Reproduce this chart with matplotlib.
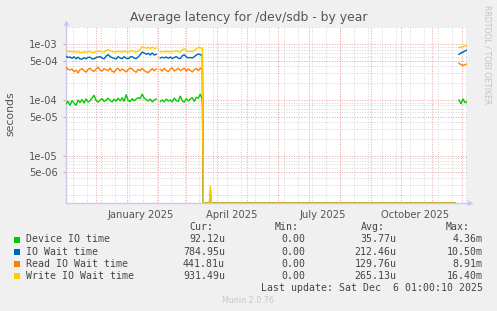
import numpy as np
import matplotlib
matplotlib.use("Agg")
import matplotlib.pyplot as plt
import matplotlib.dates as mdates
from matplotlib.patches import Rectangle, Polygon
from matplotlib.lines import Line2D

# ---------------- data (values in microseconds, days since 2024-11-01 01:00) ----
series_names = ["Device IO time", "IO Wait time", "Read IO Wait time", "Write IO Wait time"]
series_colors = ["#00CC00", "#0066B3", "#FF8000", "#FFCC00"]

days_a = list(range(0, 91, 2))
days_b = list(range(94, 137, 2))
days_z = [137, 143, 144, 145, 388]
days_c = [392, 394, 396, 398, 400]

device_a = [85, 95, 80, 98, 88, 80, 100, 90, 102, 88, 105, 92, 97, 108, 122, 98, 92, 100, 106, 94,
            99, 108, 98, 92, 104, 95, 108, 96, 110, 94, 125, 98, 94, 106, 96, 104, 110, 106, 128, 108,
            102, 96, 104, 92, 100, 104]
iowait_a = [610, 580, 590, 560, 595, 550, 585, 545, 540, 575, 550, 580, 585, 550, 545, 580, 590, 600, 565, 550,
            610, 650, 600, 575, 560, 545, 600, 570, 550, 600, 560, 550, 590, 600, 565, 555, 590, 650, 720, 700,
            660, 690, 640, 700, 640, 660]
read_a = [390, 355, 345, 360, 320, 345, 305, 350, 365, 335, 315, 355, 370, 340, 325, 360, 385, 345, 330, 365,
          350, 335, 375, 330, 315, 355, 370, 330, 360, 340, 320, 350, 375, 360, 330, 315, 355, 335, 370, 340,
          320, 310, 340, 365, 335, 360]
write_a = [760, 740, 750, 725, 755, 715, 745, 710, 705, 735, 715, 740, 745, 715, 710, 740, 750, 760, 730, 720,
           770, 800, 760, 745, 730, 720, 760, 735, 725, 765, 730, 720, 755, 765, 735, 725, 755, 810, 900, 880,
           850, 880, 840, 890, 845, 860]

device_b = [94, 100, 92, 104, 96, 100, 92, 108, 98, 94, 118, 96, 92, 106, 96, 104, 110, 94, 112, 108, 128, 100]
iowait_b = [565, 585, 570, 590, 560, 590, 555, 580, 600, 565, 555, 620, 645, 595, 570, 580, 565, 600, 640, 670, 650, 630]
read_b = [355, 330, 370, 340, 320, 360, 375, 330, 350, 370, 335, 355, 375, 330, 360, 340, 320, 350, 370, 335, 375, 345]
write_b = [725, 745, 730, 755, 725, 745, 730, 750, 765, 735, 725, 800, 825, 765, 740, 750, 735, 770, 830, 880, 860, 840]

device_z = [0, 0, 2.5, 0, 0]
iowait_z = [0, 0, 0, 0, 0]
read_z = [0, 0, 0, 0, 0]
write_z = [0, 0, 2.9, 0, 0]

device_c = [100, 85, 105, 90, 92.12]
iowait_c = [660, 700, 720, 760, 784.95]
read_c = [460, 430, 420, 430, 441.81]
write_c = [870, 880, 900, 950, 931.49]

cur_vals = ["92.12u", "784.95u", "441.81u", "931.49u"]
min_vals = ["0.00", "0.00", "0.00", "0.00"]
avg_vals = ["35.77u", "212.46u", "129.76u", "265.13u"]
max_vals = ["4.36m", "10.50m", "8.91m", "16.40m"]

ytick_vals = [1e-3, 5e-4, 1e-4, 5e-5, 1e-5, 5e-6]
ytick_labels = ["1e-03", "5e-04", "1e-04", "5e-05", "1e-05", "5e-06"]
xlabel_dates = ["2025-01-15", "2025-04-15", "2025-07-15", "2025-10-15"]
xlabel_texts = ["January 2025", "April 2025", "July 2025", "October 2025"]

# ---------------- figure ----------------
W, H = 497, 311
fig = plt.figure(figsize=(W / 100, H / 100), dpi=100, facecolor="#F0F0F0")
L, R, T, B = 66, 467, 27, 203.3
ax = fig.add_axes([L / W, 1 - B / H, (R - L) / W, (B - T) / H])
ax.set_facecolor("white")

YMIN, YMAX = 1.4e-6, 2.04e-3
start = np.datetime64("2024-11-01T01:00")


def to_num(days):
    arr = start + (np.array(days, dtype=float) * 24 * 3600).astype("timedelta64[s]")
    return mdates.date2num(arr)


all_days = days_a + [92] + days_b + days_z + [390] + days_c
xs = to_num(all_days)
nan = [float("nan")]
groups = [
    (device_a, device_b, device_z, device_c),
    (iowait_a, iowait_b, iowait_z, iowait_c),
    (read_a, read_b, read_z, read_c),
    (write_a, write_b, write_z, write_c),
]

ax.set_yscale("log")
ax.set_ylim(YMIN, YMAX)
x0, x1 = to_num([0, 400])
ax.set_xlim(x0, x1)

# grid
minor_col = "#D4D4D4"
major_col = "#EBA0A0"
dash = (0, (1.0, 1.6))
for k in range(-7, -1):
    for m in range(1, 10):
        v = m * 10.0 ** k
        if YMIN < v < YMAX and m not in (1, 5):
            ax.axhline(v, color=minor_col, lw=0.7, ls=dash, zorder=1)
d = np.datetime64("2024-11-08")
while d < np.datetime64("2025-12-06"):
    ax.axvline(mdates.date2num(d), color=minor_col, lw=0.7, ls=dash, zorder=1)
    d = d + np.timedelta64(14, "D")
for k in range(-7, -1):
    for m in (1, 5):
        v = m * 10.0 ** k
        if YMIN < v < YMAX:
            ax.axhline(v, color=major_col, lw=0.7, ls=dash, zorder=1.5)
for mo in range(12, 25):
    yy = 2024 + (mo - 1) // 12
    mm = (mo - 1) % 12 + 1
    dd = np.datetime64(f"{yy}-{mm:02d}-01")
    ax.axvline(mdates.date2num(dd), color=major_col, lw=0.7, ls=dash, zorder=1.5)

# series
for (a, b, z, c), col in zip(groups, series_colors):
    vals = np.array(a + nan + b + z + nan + c, dtype=float) * 1e-6
    vals = np.where(vals == 0, YMIN, vals)
    ax.plot(xs, vals, color=col, lw=1.0, zorder=3, solid_joinstyle="miter")

# axes
for s in ("top", "right"):
    ax.spines[s].set_visible(False)
axcol = "#C8C8F0"
for s in ("left", "bottom"):
    ax.spines[s].set_color(axcol)
    ax.spines[s].set_linewidth(1.0)
ax.set_yticks(ytick_vals)
ax.set_yticklabels(ytick_labels)
ax.yaxis.set_minor_locator(matplotlib.ticker.NullLocator())
ax.set_xticks(mdates.date2num(np.array(xlabel_dates, dtype="datetime64[D]")))
ax.set_xticklabels(xlabel_texts)
ax.xaxis.set_minor_locator(matplotlib.ticker.NullLocator())
ax.tick_params(axis="y", length=2, color=major_col, pad=4.0, labelsize=7.2, labelcolor="#555555")
ax.tick_params(axis="x", length=0, pad=4.5, labelsize=7.2, labelcolor="#555555")


def fx(x):
    return x / W


def fy(y):
    return 1 - y / H


# axis extensions & arrows
fig.add_artist(Line2D([fx(L), fx(L)], [fy(T), fy(24)], color=axcol, lw=1.0))
fig.add_artist(Line2D([fx(R), fx(470)], [fy(B), fy(B)], color=axcol, lw=1.0))
fig.add_artist(Polygon([[fx(63.5), fy(25.5)], [fx(69.5), fy(25.5)], [fx(66.5), fy(20.5)]],
                       closed=True, color="#C8C8F8", lw=0))
fig.add_artist(Polygon([[fx(468), fy(B - 3)], [fx(468), fy(B + 3)], [fx(473.5), fy(B)]],
                       closed=True, color="#C8C8F8", lw=0))

# titles
fig.text(fx(248.5), fy(18), "Average latency for /dev/sdb - by year", ha="center", va="center",
         fontsize=8.9, color="#555555")
fig.text(fx(10.5), fy(114), "seconds", rotation=90, ha="center", va="center", fontsize=7.8, color="#555555")
fig.text(fx(487.5), fy(5), "RRDTOOL / TOBI OETIKER", rotation=270, ha="center", va="top",
         fontsize=5.6, color="#C4C4C4")

# legend
mono = "DejaVu Sans Mono"
lfs = 7.1
lcol = "#444444"
hy = 227.5
for txt, xr in (("Cur:", 213), ("Min:", 299), ("Avg:", 384.5), ("Max:", 470)):
    fig.text(fx(xr), fy(hy), txt, ha="right", va="center", fontfamily=mono, fontsize=lfs, color=lcol)
row_y = [239.5, 251.7, 263.7, 275.7]
for i, name in enumerate(series_names):
    y = row_y[i]
    fig.add_artist(Rectangle((fx(14), fy(y + 3)), 6 / W, 6 / H, color=series_colors[i], lw=0))
    fig.text(fx(26), fy(y), name, ha="left", va="center", fontfamily=mono, fontsize=lfs, color=lcol)
    for val, xr in ((cur_vals[i], 225), (min_vals[i], 305), (avg_vals[i], 396.7), (max_vals[i], 482.7)):
        fig.text(fx(xr), fy(y), val, ha="right", va="center", fontfamily=mono, fontsize=lfs, color=lcol)
fig.text(fx(482.7), fy(287.7), "Last update: Sat Dec  6 01:00:10 2025", ha="right", va="center",
         fontfamily=mono, fontsize=lfs, color=lcol)
fig.text(fx(248), fy(300.5), "Munin 2.0.76", ha="center", va="center", fontsize=5.8, color="#C8C8C8")

fig.savefig("out.png", dpi=100, facecolor=fig.get_facecolor())
